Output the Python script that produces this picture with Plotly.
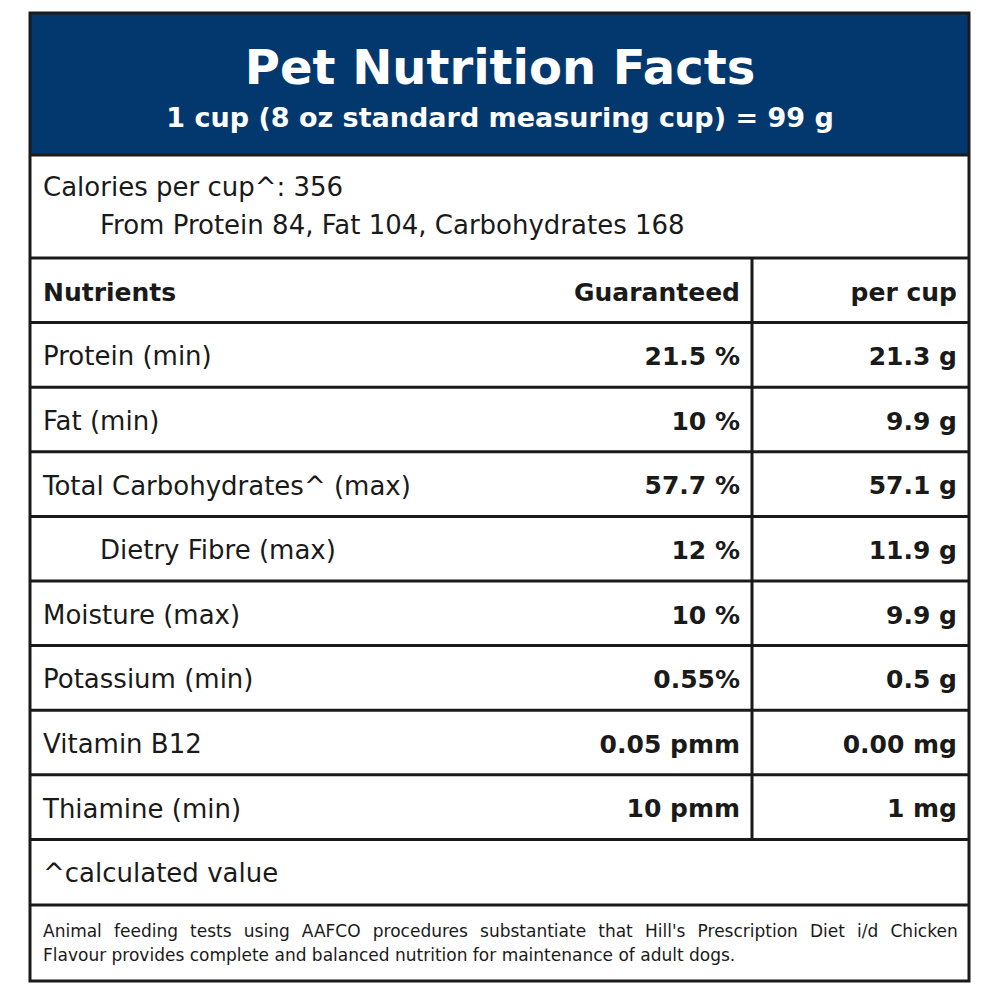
import plotly.graph_objects as go

title = "Pet Nutrition Facts"
subtitle = "1 cup (8 oz standard measuring cup) = 99 g"
calories_line1 = "Calories per cup^: 356"
calories_line2 = "From Protein 84, Fat 104, Carbohydrates 168"
col_headers = ["Nutrients", "Guaranteed", "per cup"]
nutrients = ["Protein (min)", "Fat (min)", "Total Carbohydrates^ (max)", "Dietry Fibre (max)",
             "Moisture (max)", "Potassium (min)", "Vitamin B12", "Thiamine (min)"]
indented = [False, False, False, True, False, False, False, False]
guaranteed = ["21.5 %", "10 %", "57.7 %", "12 %", "10 %", "0.55%", "0.05 pmm", "10 pmm"]
per_cup = ["21.3 g", "9.9 g", "57.1 g", "11.9 g", "9.9 g", "0.5 g", "0.00 mg", "1 mg"]
footnote = "^calculated value"
disclaimer_1 = "Animal feeding tests using AAFCO procedures substantiate that Hill's Prescription Diet i/d Chicken"
disclaimer_2 = "Flavour provides complete and balanced nutrition for maintenance of adult dogs."

FONT = "DejaVu Sans"
BLUE = "#03386F"
INK = "#1a1a1a"

X0, X1 = 30, 969
Y_TOP, Y_BOT = 13, 981
Y_HEAD_END = 155
Y_TABLE = 258
ROW_H = 64.6
XDIV = 752
XL, XG, XP = 43, 740, 957
DY = 4

n_rows = len(nutrients)
row_lines = [Y_TABLE + ROW_H * i for i in range(n_rows + 2)]
y_foot_line = row_lines[-1] + ROW_H + 1

fig = go.Figure()

shapes = []
shapes.append(dict(type="rect", x0=X0, x1=X1, y0=Y_TOP, y1=Y_HEAD_END, fillcolor=BLUE,
                   line=dict(width=0), layer="below"))
for y in row_lines + [y_foot_line, Y_HEAD_END]:
    shapes.append(dict(type="line", x0=X0, x1=X1, y0=y, y1=y, line=dict(color=INK, width=3)))
shapes.append(dict(type="line", x0=XDIV, x1=XDIV, y0=row_lines[0], y1=row_lines[-1],
                   line=dict(color=INK, width=3)))
shapes.append(dict(type="rect", x0=X0, x1=X1, y0=Y_TOP, y1=Y_BOT, line=dict(color=INK, width=3)))

def txt(x, y, text, pos, size, bold=False, color=INK):
    fig.add_trace(go.Scatter(x=x, y=y, mode="text", text=text, textposition=pos,
                             textfont=dict(family=FONT, size=size, color=color,
                                           weight=700 if bold else 400),
                             hoverinfo="skip", showlegend=False))

# title texts
txt([500], [72], [title], "middle center", 48, True, "white")
txt([500], [120], [subtitle], "middle center", 27, True, "white")

# calories
txt([XL, 100], [189, 227], [calories_line1, calories_line2], "middle right", 26)

# header row
yh = row_lines[0] + ROW_H / 2 + DY
txt([XL], [yh], [col_headers[0]], "middle right", 25, True)
txt([XG, XP], [yh, yh], col_headers[1:], "middle left", 25, True)

ys = [row_lines[i + 1] + ROW_H / 2 + DY for i in range(n_rows)]
xs_names = [100 if ind else XL for ind in indented]
txt(xs_names, ys, nutrients, "middle right", 26)
txt([XG] * n_rows, ys, guaranteed, "middle left", 25, True)
txt([XP] * n_rows, ys, per_cup, "middle left", 25, True)

# footnote
txt([XL], [row_lines[-1] + ROW_H / 2 + DY], [footnote], "middle right", 26)

# disclaimer (first line justified via word spacing)
txt([XL, XL], [933, 957],
    ['<span style="word-spacing:6.75px">' + disclaimer_1 + '</span>', disclaimer_2],
    "middle right", 17)

# page body has an 8px margin: map data coordinates onto page pixels
OFF = 8
fig.update_layout(
    width=1000, height=1000, margin=dict(l=0, r=0, t=0, b=0),
    paper_bgcolor="white", plot_bgcolor="white",
    xaxis=dict(range=[OFF, 1000 + OFF], visible=False, fixedrange=True),
    yaxis=dict(range=[1000 + OFF, OFF], visible=False, fixedrange=True),
    shapes=shapes, showlegend=False,
)

fig.write_html("out.html")
